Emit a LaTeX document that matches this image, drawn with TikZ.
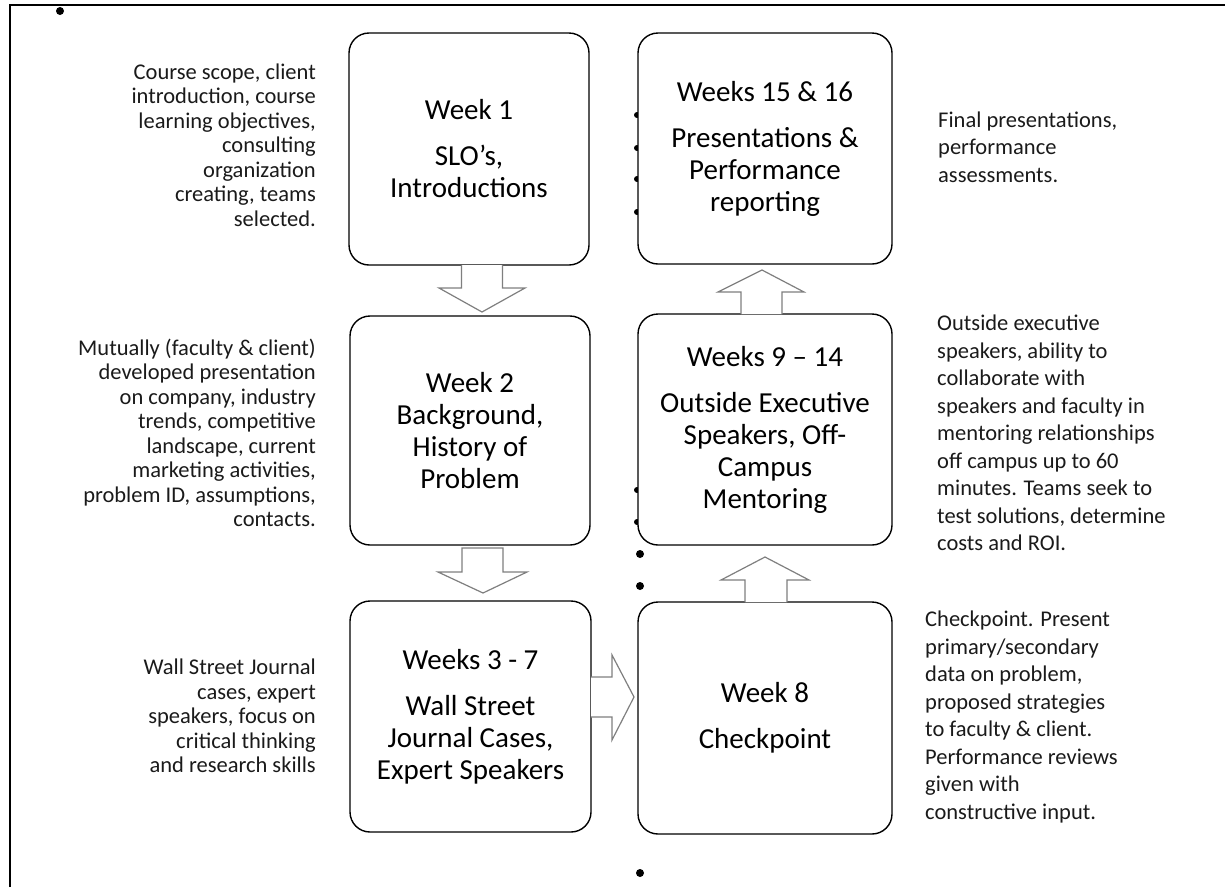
\documentclass[tikz,border=0pt]{standalone}
\usepackage{fontspec}
\setmainfont{Carlito}
\usetikzlibrary{calc}
\definecolor{arrgray}{HTML}{7F7F7F}
\definecolor{txt}{HTML}{1A1A1A}
\begin{document}
\begin{tikzpicture}[x=1pt,y=-1pt,
  wk/.style={draw=black, line width=1.4pt, rounded corners=20pt, fill=white, align=center,
    inner sep=0pt, outer sep=0pt, text=black, font=\fontsize{29}{32}\selectfont},
  lnote/.style={anchor=east, align=right, inner sep=0pt, text=txt, font=\fontsize{22.5}{24.5}\selectfont},
  rnote/.style={anchor=west, align=left, inner sep=0pt, text=txt, font=\fontsize{22.5}{27.5}\selectfont},
  barrow/.style={draw=arrgray, line width=1.2pt, fill=white, line join=miter},
  bdot/.style={fill=black}]
\useasboundingbox (0,0) rectangle (1225,887);
% frame
\draw[line width=1.5pt] (10,887) -- (10,5) -- (1225,5);
% stray bullet dots
\fill[bdot] (60,11) circle (4);
\fill[bdot] (640,554) circle (4);
\fill[bdot] (640,586) circle (4);
\fill[bdot] (640,873) circle (4);
\foreach \yy in {115,148,179,212} {\fill[bdot] (637,\yy) circle (3);}
\foreach \yy in {490,522} {\fill[bdot] (637,\yy) circle (3);}
% boxes
\node[wk, minimum width=240pt, minimum height=232pt] (w1) at (469,149)
  {Week 1\\[14pt]SLO’s,\\Introductions};
\node[wk, minimum width=240pt, minimum height=229pt] (w2) at (470,430.5)
  {Week 2\\Background,\\History of\\Problem};
\node[wk, minimum width=241pt, minimum height=231pt] (w3) at (470.5,716.5)
  {Weeks 3 - 7\\[14pt]Wall Street\\Journal Cases,\\Expert Speakers};
\node[wk, minimum width=254pt, minimum height=231pt] (w15) at (765,148.5)
  {Weeks 15 \& 16\\[14pt]Presentations \&\\Performance\\reporting};
\node[wk, minimum width=254pt, minimum height=231pt] (w9) at (765,429.5)
  {Weeks 9 – 14\\[14pt]Outside Executive\\Speakers, Off-\\Campus\\Mentoring};
\node[wk, minimum width=254pt, minimum height=232pt] (w8) at (765,718)
  {Week 8\\[14pt]Checkpoint};
% block arrows
\draw[barrow] let \p1=(w1.south), \p2=(w2.north) in
  (\x1-7.5pt,\y1) -- (\x1-7.5pt,\y1-23pt) -- (\x1-30pt,\y1-23pt) -- (\x1+13pt,\y2+4pt)
  -- (\x1+56pt,\y1-23pt) -- (\x1+33.5pt,\y1-23pt) -- (\x1+33.5pt,\y1);
\draw[barrow] let \p1=(w2.south), \p2=(w3.north) in
  (\x1-8pt,\y1-3pt) -- (\x1-8pt,\y1-27pt) -- (\x1-32pt,\y1-27pt) -- (\x1+13pt,\y2+8pt)
  -- (\x1+57pt,\y1-27pt) -- (\x1+33pt,\y1-27pt) -- (\x1+33pt,\y1-3pt) -- cycle;
\draw[barrow] let \p1=(w3.east), \p2=(w8.west) in
  (\x1,\y1+39.5pt) -- (\x1+21pt,\y1+39.5pt) -- (\x1+21pt,\y1+61.5pt) -- (\x2-4pt,\y1+19.5pt)
  -- (\x1+21pt,\y1-23.5pt) -- (\x1+21pt,\y1-0.5pt) -- (\x1,\y1-0.5pt);
\draw[barrow] let \p1=(w8.north), \p2=(w9.south) in
  (\x1-20pt,\y1) -- (\x1-20pt,\y1+22pt) -- (\x1-44pt,\y1+22pt) -- (\x1,\y2-12pt)
  -- (\x1+44pt,\y1+22pt) -- (\x1+22pt,\y1+22pt) -- (\x1+22pt,\y1);
\draw[barrow] let \p1=(w9.north), \p2=(w15.south) in
  (\x1-24pt,\y1) -- (\x1-24pt,\y1+22pt) -- (\x1-47pt,\y1+22pt) -- (\x1-3pt,\y2-6pt)
  -- (\x1+39pt,\y1+22pt) -- (\x1+17pt,\y1+22pt) -- (\x1+17pt,\y1);
% side notes
\node[lnote] (n1) at (316,145) {Course scope, client\\introduction, course\\learning objectives,\\consulting\\organization\\creating, teams\\selected.};
\node[lnote] (n2) at (316,433) {Mutually (faculty \& client)\\developed presentation\\on company, industry\\trends, competitive\\landscape, current\\marketing activities,\\problem ID, assumptions,\\contacts.};
\node[lnote] (n3) at (316,716) {Wall Street Journal\\cases, expert\\speakers, focus on\\critical thinking\\and research skills};
\node[rnote] (n4) at (938,147) {Final presentations,\\performance\\assessments.};
\node[rnote] (n5) at (937,433) {Outside executive\\speakers, ability to\\collaborate with\\speakers and faculty in\\mentoring relationships\\off campus up to 60\\minutes. Teams seek to\\test solutions, determine\\costs and ROI.};
\node[rnote] (n6) at (925,717) {Checkpoint. Present\\primary/secondary\\data on problem,\\proposed strategies\\to faculty \& client.\\Performance reviews\\given with\\constructive input.};
\end{tikzpicture}
\end{document}
